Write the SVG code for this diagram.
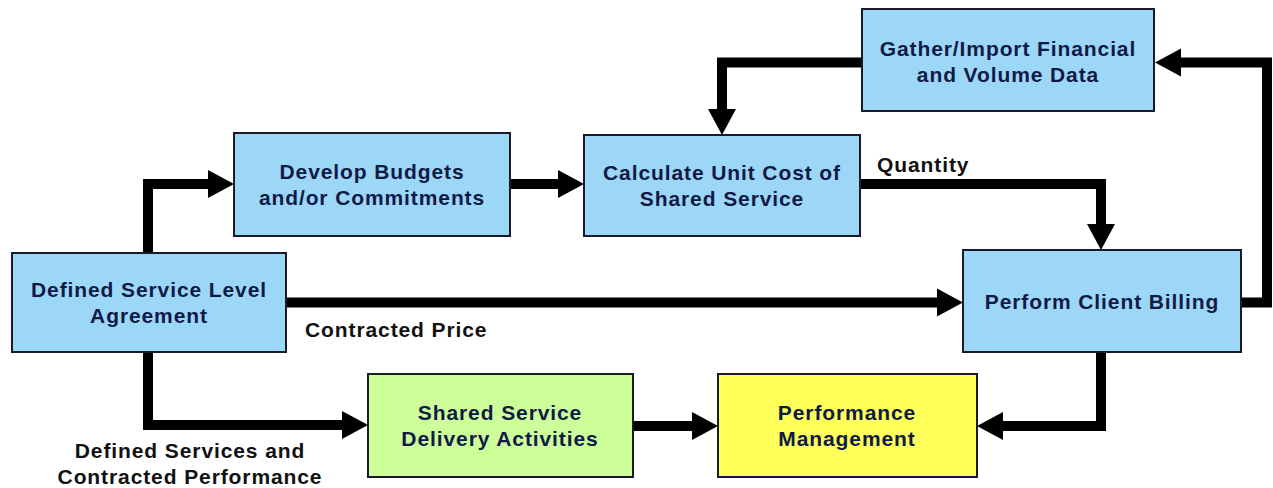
<svg xmlns="http://www.w3.org/2000/svg" width="1273" height="488" viewBox="0 0 1273 488">
  <defs>
    <style>
      .box { stroke: #1a1a2a; stroke-width: 2; }
      .blue { fill: #9dd7f8; }
      .green { fill: #ccff99; }
      .yellow { fill: #ffff5a; }
      .label { font-family: "Liberation Sans", Arial, sans-serif; font-size: 21px; font-weight: bold; letter-spacing: 0.9px; fill: #0f1a45; text-anchor: middle; }
      .note { font-family: "Liberation Sans", Arial, sans-serif; font-size: 21px; font-weight: bold; letter-spacing: 0.9px; fill: #111111; }
      .link { fill: none; stroke: #000000; stroke-width: 10; stroke-linejoin: miter; stroke-linecap: butt; }
    </style>
    <!-- arrowhead: base at the path end, tip 26px further on -->
    <marker id="head" markerUnits="userSpaceOnUse" markerWidth="27" markerHeight="29" refX="0" refY="14" orient="auto" viewBox="0 0 27 28">
      <path d="M0,0 L26,14 L0,28 Z" fill="#000000"/>
    </marker>
  </defs>

  <rect width="1273" height="488" fill="#ffffff"/>

  <!-- connectors -->
  <g id="connectors">
    <path class="link" d="M148,253 V184 H208" marker-end="url(#head)"/>
    <path class="link" d="M510,184 H558" marker-end="url(#head)"/>
    <path class="link" d="M862,62.5 H722 V109" marker-end="url(#head)"/>
    <path class="link" d="M860,184 H1101 V224" marker-end="url(#head)"/>
    <path class="link" d="M286,302.5 H937" marker-end="url(#head)"/>
    <path class="link" d="M1241,302.5 H1267 V62.5 H1181" marker-end="url(#head)"/>
    <path class="link" d="M148,352 V425 H342" marker-end="url(#head)"/>
    <path class="link" d="M633,426 H692" marker-end="url(#head)"/>
    <path class="link" d="M1101,352 V426 H1003" marker-end="url(#head)"/>
    <text class="note" x="877" y="172">Quantity</text>
    <text class="note" x="305" y="337">Contracted Price</text>
    <text class="note" x="190" y="458" text-anchor="middle">Defined Services and</text>
    <text class="note" x="190" y="484" text-anchor="middle">Contracted Performance</text>
  </g>

  <g id="sla">
    <rect class="box blue" x="12" y="253" width="274" height="99"/>
    <text class="label" x="149" y="297">Defined Service Level</text>
    <text class="label" x="149" y="323">Agreement</text>
  </g>

  <g id="budgets">
    <rect class="box blue" x="234" y="133" width="276" height="103"/>
    <text class="label" x="372" y="179">Develop Budgets</text>
    <text class="label" x="372" y="205">and/or Commitments</text>
  </g>

  <g id="unit-cost">
    <rect class="box blue" x="584" y="135" width="276" height="101"/>
    <text class="label" x="722" y="180">Calculate Unit Cost of</text>
    <text class="label" x="722" y="206">Shared Service</text>
  </g>

  <g id="gather">
    <rect class="box blue" x="862" y="9" width="292" height="102"/>
    <text class="label" x="1008" y="56">Gather/Import Financial</text>
    <text class="label" x="1008" y="82">and Volume Data</text>
  </g>

  <g id="billing">
    <rect class="box blue" x="963" y="250" width="278" height="102"/>
    <text class="label" x="1102" y="309">Perform Client Billing</text>
  </g>

  <g id="delivery">
    <rect class="box green" x="368" y="374" width="265" height="103"/>
    <text class="label" x="500" y="420">Shared Service</text>
    <text class="label" x="500" y="446">Delivery Activities</text>
  </g>

  <g id="performance">
    <rect class="box yellow" x="718" y="374" width="259" height="103"/>
    <text class="label" x="847" y="420">Performance</text>
    <text class="label" x="847" y="446">Management</text>
  </g>
</svg>
